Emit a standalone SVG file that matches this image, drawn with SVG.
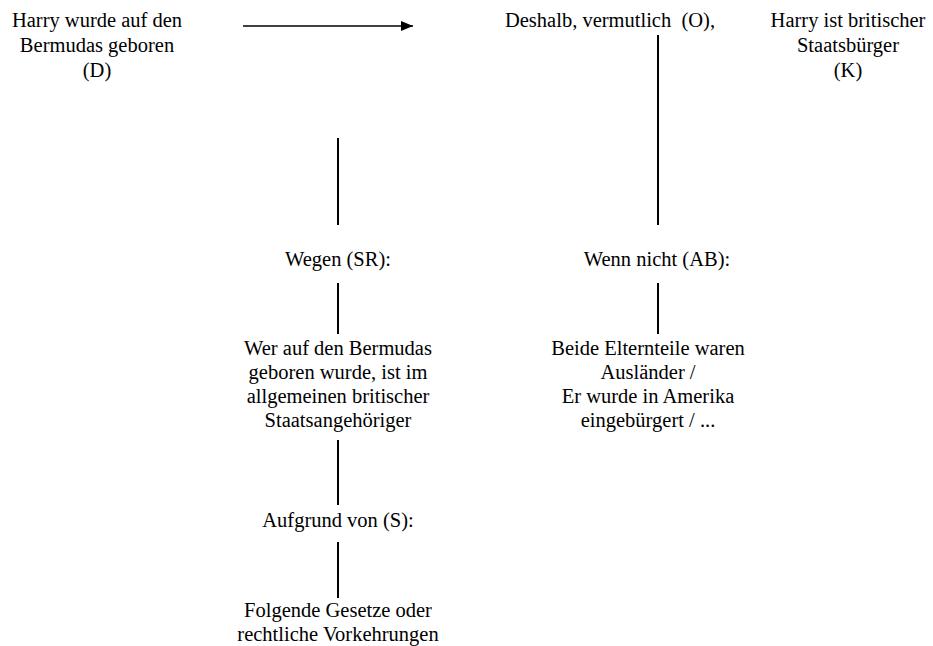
<svg xmlns="http://www.w3.org/2000/svg" width="933" height="646" viewBox="0 0 933 646">
<style>
.t text{font-size:20.5px;fill:#000;text-anchor:middle}
.c{stroke:#000;stroke-width:2;fill:none}
</style>
<defs>
<marker id="ah" markerWidth="13" markerHeight="11" refX="12" refY="5" orient="auto" markerUnits="userSpaceOnUse">
<path d="M0,0 L12,5 L0,10 Z" fill="#000"/>
</marker>
</defs>
<rect width="933" height="646" fill="#fff"/>
<g id="connectors">
<line x1="243" y1="26" x2="413" y2="26" stroke="#000" stroke-width="1.5" marker-end="url(#ah)"/>
<line class="c" x1="338" y1="138" x2="338" y2="225"/>
<line class="c" x1="658" y1="35" x2="658" y2="225"/>
<line class="c" x1="338" y1="283" x2="338" y2="334"/>
<line class="c" x1="658" y1="283" x2="658" y2="334"/>
<line class="c" x1="338" y1="440" x2="338" y2="505"/>
<line class="c" x1="338" y1="542" x2="338" y2="598"/>
</g>
<g class="t" font-family="Liberation Serif, Times New Roman, DejaVu Serif, serif">
<g id="node-D">
<text x="97" y="27">Harry wurde auf den</text>
<text x="97" y="52">Bermudas geboren</text>
<text x="97" y="77">(D)</text>
</g>
<g id="node-O">
<text x="610" y="27" xml:space="preserve">Deshalb, vermutlich  (O),</text>
</g>
<g id="node-K">
<text x="848" y="27">Harry ist britischer</text>
<text x="848" y="52">Staatsbürger</text>
<text x="848" y="77">(K)</text>
</g>
<g id="node-SR">
<text x="338" y="266">Wegen (SR):</text>
</g>
<g id="node-AB">
<text x="657" y="266">Wenn nicht (AB):</text>
</g>
<g id="node-SR-text">
<text x="338" y="355">Wer auf den Bermudas</text>
<text x="338" y="379">geboren wurde, ist im</text>
<text x="338" y="403">allgemeinen britischer</text>
<text x="338" y="427">Staatsangehöriger</text>
</g>
<g id="node-AB-text">
<text x="648" y="355">Beide Elternteile waren</text>
<text x="648" y="379">Ausländer /</text>
<text x="648" y="403">Er wurde in Amerika</text>
<text x="648" y="427">eingebürgert / ...</text>
</g>
<g id="node-S">
<text x="338" y="527">Aufgrund von (S):</text>
</g>
<g id="node-S-text">
<text x="338" y="617">Folgende Gesetze oder</text>
<text x="338" y="641">rechtliche Vorkehrungen</text>
</g>
</g>
</svg>
